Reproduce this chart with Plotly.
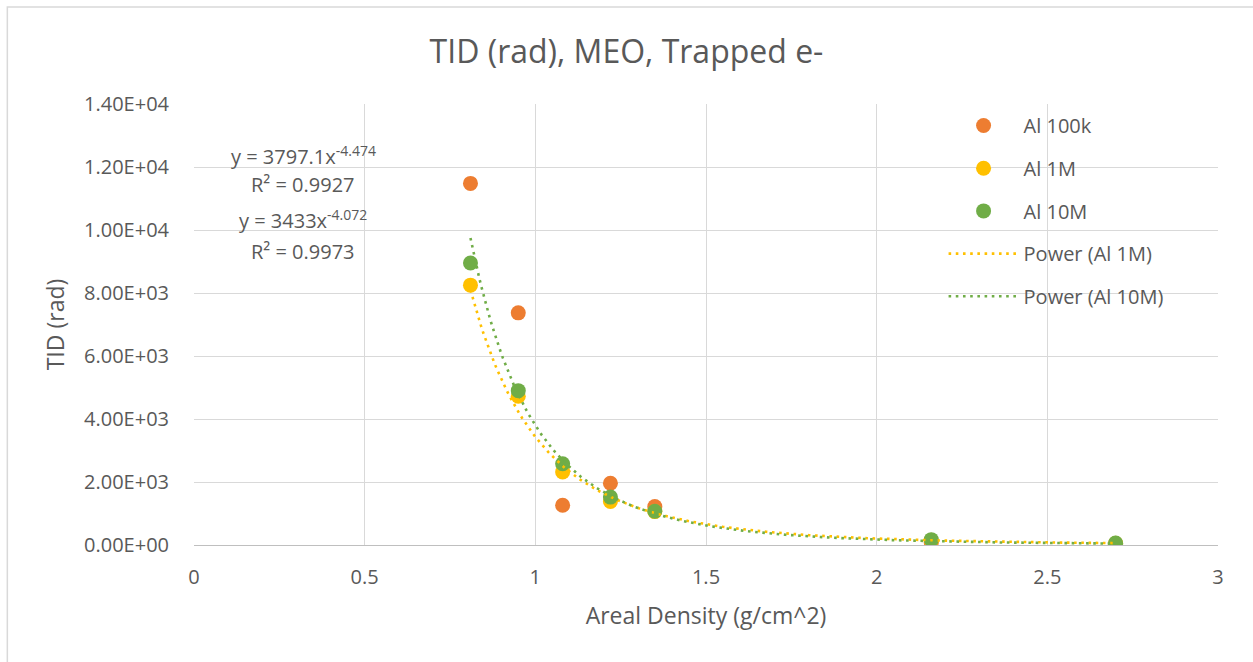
import numpy as np
import plotly.graph_objects as go

# Areal density of aluminium shielding (g/cm^2)
areal_density = [0.81, 0.95, 1.08, 1.22, 1.35, 2.16, 2.7]

# Total ionizing dose (rad) for each run
tid_al_100k = [11480, 7370, 1260, 1960, 1220, 80, 35]
tid_al_1m = [8250, 4720, 2320, 1380, 1060, 150, 55]
tid_al_10m = [8950, 4900, 2580, 1520, 1070, 170, 60]

# Power-law trendline coefficients y = a * x^b
fit_1m = (3433.0, -4.072, 0.9973)
fit_10m = (3797.1, -4.474, 0.9927)

x_ticks = [0, 0.5, 1, 1.5, 2, 2.5, 3]
x_tick_text = ["0", "0.5", "1", "1.5", "2", "2.5", "3"]
y_ticks = [0, 2000, 4000, 6000, 8000, 10000, 12000, 14000]
y_tick_text = ["0.00E+00", "2.00E+03", "4.00E+03", "6.00E+03",
               "8.00E+03", "1.00E+04", "1.20E+04", "1.40E+04"]

ORANGE = "#ED7D31"
YELLOW = "#FFC000"
GREEN = "#70AD47"
TEXT = "#595959"
GRID = "#D9D9D9"
FONT = "Open Sans"

fig = go.Figure()

for name, vals, col in [("Al 100k", tid_al_100k, ORANGE),
                        ("Al 1M", tid_al_1m, YELLOW),
                        ("Al 10M", tid_al_10m, GREEN)]:
    fig.add_trace(go.Scatter(
        x=areal_density, y=vals, mode="markers", name=name, legendgroup=name,
        marker=dict(color=col, size=15, line=dict(width=0)),
    ))

x_fit = np.linspace(min(areal_density), max(areal_density), 300)
for name, (a, b, _), col in [("Power (Al 1M)", fit_1m, YELLOW),
                             ("Power (Al 10M)", fit_10m, GREEN)]:
    fig.add_trace(go.Scatter(
        x=x_fit, y=a * x_fit ** b, mode="lines", name=name, legendgroup=name,
        line=dict(color=col, width=2.6, dash="2.6px,4.6px"),
    ))

# Trendline equation labels
labels = [
    (12380, f"y = {fit_10m[0]}x<sup>{fit_10m[1]}</sup>"),
    (11460, f"R² = {fit_10m[2]}"),
    (10320, f"y = {fit_1m[0]:g}x<sup>{fit_1m[1]}</sup>"),
    (9330, f"R² = {fit_1m[2]}"),
]
for yv, txt in labels:
    fig.add_annotation(x=0.32, y=yv, xref="x", yref="y", text=txt,
                       showarrow=False, font=dict(family=FONT, size=20, color=TEXT))

# Chart-area border
fig.add_shape(type="rect", xref="paper", yref="paper",
              x0=-0.1823, y0=-0.30, x1=1.06, y1=1.220,
              line=dict(color=GRID, width=1.5), layer="below")

fig.update_layout(
    width=1253, height=662,
    margin=dict(l=194, r=35, t=104, b=117),
    paper_bgcolor="white", plot_bgcolor="white",
    font=dict(family=FONT, color=TEXT, size=20),
    title=dict(text="TID (rad), MEO, Trapped e-", x=0.5, xanchor="center",
               y=1 - 52 / 662, yanchor="middle",
               font=dict(family=FONT, size=32, color=TEXT)),
    showlegend=True,
    legend=dict(x=0.732, y=0.9955, xanchor="left", yanchor="top",
                bgcolor="rgba(0,0,0,0)", tracegroupgap=13.7,
                itemwidth=70, itemsizing="trace",
                font=dict(family=FONT, size=20, color=TEXT)),
    xaxis=dict(range=[0, 3], tickvals=x_ticks, ticktext=x_tick_text,
               showgrid=True, gridcolor=GRID, gridwidth=1.3, zeroline=False,
               showline=True, linecolor="#BFBFBF", linewidth=1.3,
               ticks="outside", ticklen=14, tickcolor="rgba(0,0,0,0)",
               tickfont=dict(family=FONT, size=20, color=TEXT),
               title=dict(text="Areal Density (g/cm^2)", standoff=18,
                          font=dict(family=FONT, size=23, color=TEXT))),
    yaxis=dict(range=[0, 14000], tickvals=y_ticks, ticktext=y_tick_text,
               showgrid=True, gridcolor=GRID, gridwidth=1.3, zeroline=False,
               showline=False,
               ticks="outside", ticklen=20, tickcolor="rgba(0,0,0,0)",
               tickfont=dict(family=FONT, size=20, color=TEXT),
               title=dict(text="TID (rad)", standoff=12,
                          font=dict(family=FONT, size=23, color=TEXT))),
)

fig.write_html("out.html")
